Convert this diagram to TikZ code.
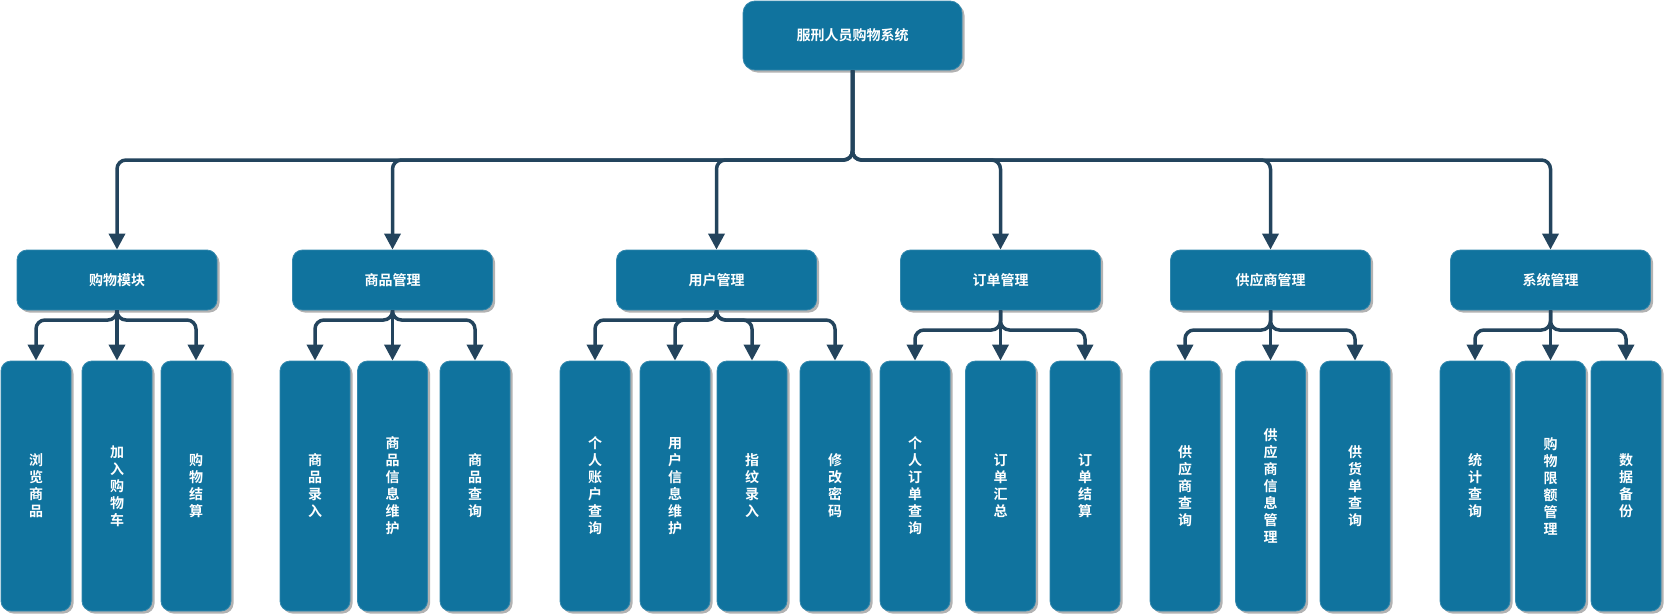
\documentclass[tikz,border=0pt]{standalone}
\usepackage{fontspec}
\setmainfont{Noto Sans CJK SC}[BoldFont={Noto Sans CJK SC Bold}]
\usetikzlibrary{arrows.meta,shadows}
\definecolor{boxblue}{HTML}{10739E}
\definecolor{linenavy}{HTML}{23445D}
\begin{document}
\begin{tikzpicture}[x=1pt,y=-1pt,
 box/.style={draw=boxblue!85!white, line width=0.8pt, fill=boxblue, rounded corners=10pt, text=white,
   font=\bfseries\fontsize{14}{17}\selectfont, align=center, inner sep=0pt,
   drop shadow={shadow xshift=2.5pt, shadow yshift=-2.5pt, opacity=0.3, fill=black}},
 rootbox/.style={box, minimum width=219pt, minimum height=69pt, rounded corners=12pt},
 midbox/.style={box, minimum width=200pt, minimum height=60pt},
 leafbox/.style={box, minimum width=70pt, minimum height=250pt},
 conn/.style={draw=linenavy, line width=3.5pt, rounded corners=9pt, -{Triangle[width=16pt,length=16pt]}}
]
\useasboundingbox (0,0) rectangle (1666,616);

\node[rootbox] (root) at (852.5,35.5) {服刑人员购物系统};

\node[midbox] (m1) at (117,280) {购物模块};
\node[midbox] (m2) at (392.5,280) {商品管理};
\node[midbox] (m3) at (716.5,280) {用户管理};
\node[midbox] (m4) at (1000.5,280) {订单管理};
\node[midbox] (m5) at (1270.5,280) {供应商管理};
\node[midbox] (m6) at (1550.5,280) {系统管理};

\node[leafbox] (a1) at (36,486) {浏\\览\\商\\品};
\node[leafbox] (a2) at (117,486) {加\\入\\购\\物\\车};
\node[leafbox] (a3) at (196,486) {购\\物\\结\\算};

\node[leafbox] (b1) at (315,486) {商\\品\\录\\入};
\node[leafbox] (b2) at (392.5,486) {商\\品\\信\\息\\维\\护};
\node[leafbox] (b3) at (475,486) {商\\品\\查\\询};

\node[leafbox] (c1) at (595,486) {个\\人\\账\\户\\查\\询};
\node[leafbox] (c2) at (675,486) {用\\户\\信\\息\\维\\护};
\node[leafbox] (c3) at (752,486) {指\\纹\\录\\入};
\node[leafbox] (c4) at (835,486) {修\\改\\密\\码};

\node[leafbox] (d1) at (915,486) {个\\人\\订\\单\\查\\询};
\node[leafbox] (d2) at (1000.5,486) {订\\单\\汇\\总};
\node[leafbox] (d3) at (1085,486) {订\\单\\结\\算};

\node[leafbox] (e1) at (1185,486) {供\\应\\商\\查\\询};
\node[leafbox] (e2) at (1270.5,486) {供\\应\\商\\信\\息\\管\\理};
\node[leafbox] (e3) at (1355,486) {供\\货\\单\\查\\询};

\node[leafbox] (f1) at (1475,486) {统\\计\\查\\询};
\node[leafbox] (f2) at (1550.5,486) {购\\物\\限\\额\\管\\理};
\node[leafbox] (f3) at (1626,486) {数\\据\\备\\份};

% root to level 2
\foreach \m in {m1,m2,m3,m4,m5,m6}
  \draw[conn] (root.south) -- (root.south |- 0,160) -| (\m.north);

% level 2 to leaves
\foreach \p/\c/\y in {m1/a1/320, m1/a3/320, m2/b1/320, m2/b3/320,
                      m3/c1/320, m3/c2/320, m3/c3/320, m3/c4/320,
                      m4/d1/330, m4/d3/330, m5/e1/330, m5/e3/330,
                      m6/f1/330, m6/f3/330}
  \draw[conn] (\p.south) -- (\p.south |- 0,\y) -| (\c.north);
\foreach \p/\c in {m1/a2, m2/b2, m4/d2, m5/e2, m6/f2}
  \draw[conn] (\p.south) -- (\c.north);
\end{tikzpicture}
\end{document}
